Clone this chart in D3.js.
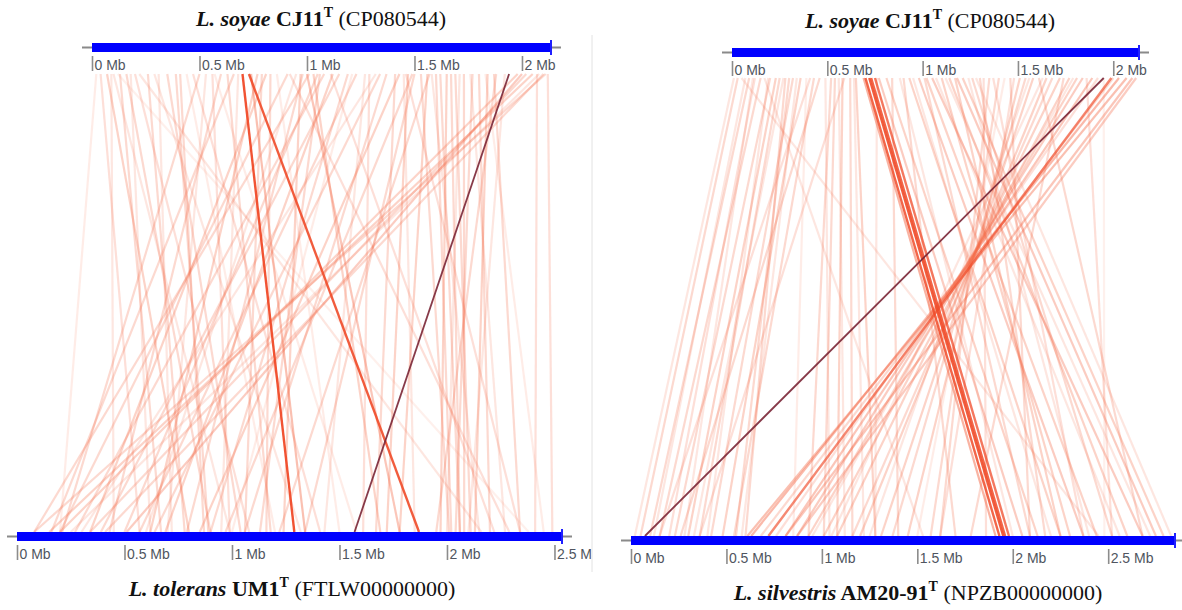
<!DOCTYPE html>
<html>
<head>
<meta charset="utf-8">
<script src="https://cdn.jsdelivr.net/npm/d3@7"></script>
<style>
  html, body { margin: 0; padding: 0; background: #fff; }
  svg { display: block; }
</style>
</head>
<body>
<svg id="chart" width="1182" height="610"></svg>
<script>
// ---------------- DATA ----------------
// Genome lengths (Mb)
const soyaeLen = 2.135;
const toleransLen = 2.535;
const silvestrisLen = 2.85;

// Axis tick values and labels
const tickValsTop = [0, 0.5, 1, 1.5, 2];
const tickLabelsTop = ["0 Mb", "0.5 Mb", "1 Mb", "1.5 Mb", "2 Mb"];
const tickValsBottom = [0, 0.5, 1, 1.5, 2, 2.5];
const tickLabelsBottomLeft = ["0 Mb", "0.5 Mb", "1 Mb", "1.5 Mb", "2 Mb", "2.5 M"];
const tickLabelsBottomRight = ["0 Mb", "0.5 Mb", "1 Mb", "1.5 Mb", "2 Mb", "2.5 Mb"];

// Left panel links: top position (L. soyae, Mb), bottom position (L. tolerans, Mb), intensity (-1 = dark)
const leftTop = [0.04,0.07,0.10,0.13,0.16,0.20,0.26,0.29,0.35,0.41,0.47,0.56,0.60,0.63,0.74,0.77,0.81,0.91,1.00,1.01,1.03,1.05,1.06,1.12,1.15,1.19,1.23,1.27,1.34,1.37,1.41,1.43,1.47,1.49,1.53,1.56,1.57,1.62,1.65,1.69,1.73,1.77,1.80,1.84,1.87,1.88,1.98,2.00,2.02,2.05,2.07,2.10,2.12,2.11,0.92,0.22,1.11,1.46,0.50,0.66,0.97,0.79,1.29,1.50,1.60,1.67,0.39,0.98,0.83,1.08,
  0.02,0.09,0.18,0.31,0.44,0.53,0.68,0.86,0.95,1.21,1.32,1.45,1.58,1.71,1.76,1.83,1.92,2.08,0.12,0.57,
  0.70,0.73,1.94];
const leftBottom = [0.57,0.80,0.99,0.67,0.90,1.08,0.78,1.32,1.04,0.87,1.41,0.99,0.43,1.18,1.34,0.62,0.34,0.20,1.78,0.08,1.69,0.50,1.13,0.69,0.39,0.90,0.57,1.43,0.64,1.06,1.67,0.85,1.72,0.97,2.01,1.78,1.22,2.06,1.97,2.11,2.08,2.04,2.20,2.13,2.34,1.95,0.20,0.51,0.34,0.15,2.41,0.41,2.49,0.08,2.29,2.16,2.22,2.34,0.21,0.16,1.24,1.06,1.61,1.34,2.02,2.06,0.89,0.79,1.16,0.27,
  0.20,0.45,0.62,0.72,1.20,0.70,0.95,1.50,0.60,1.00,0.30,1.85,2.15,2.00,2.27,2.45,2.10,0.25,2.38,1.58,
  1.29,1.87,1.57];
const leftLevel = [0.25,0.35,0.2,0.3,0.3,0.25,0.3,0.2,0.3,0.3,0.25,0.25,0.3,0.3,0.5,0.35,0.35,0.3,0.45,0.3,0.35,0.3,0.3,0.35,0.3,0.3,0.3,0.2,0.3,0.3,0.3,0.35,0.35,0.3,0.3,0.35,0.3,0.3,0.35,0.3,0.3,0.3,0.3,0.35,0.3,0.3,0.35,0.4,0.3,0.35,0.25,0.3,0.25,0.3,0.25,0.2,0.25,0.25,0.3,0.3,0.35,0.3,0.25,0.3,0.3,0.3,0.3,0.3,0.3,0.3,
  0.15,0.2,0.2,0.2,0.15,0.2,0.2,0.15,0.2,0.15,0.2,0.2,0.2,0.2,0.2,0.15,0.2,0.2,0.12,0.15,
  0.95,0.9,-1];

// Right panel links: top position (L. soyae, Mb), bottom position (L. silvestris, Mb), intensity (-1 = dark)
const rightTop = [0.03,0.05,0.15,0.20,0.23,0.25,0.32,0.36,0.41,0.43,0.46,0.52,0.54,0.58,0.62,0.65,0.77,0.81,0.90,0.93,0.98,1.02,1.05,1.10,1.14,1.18,1.21,1.26,1.30,1.35,1.40,1.46,1.51,1.54,1.58,1.65,1.68,1.72,1.74,1.77,1.81,1.84,1.89,1.99,2.03,2.07,2.10,2.12,0.76,1.95,0.17,0.30,0.59,1.01,1.61,1.37,1.86,1.32,1.48,1.17,0.09,0.12,0.28,0.84,
  0.01,0.07,0.11,0.19,0.27,0.34,0.39,0.49,0.56,0.64,0.88,0.95,1.07,1.12,1.24,1.43,1.56,1.63,1.79,1.92,2.00,1.28,
  0.69,0.70,0.72,0.73,0.75,1.95];
const rightBottom = [0.05,2.45,0.15,0.23,0.30,0.36,0.42,0.48,0.15,0.54,0.26,0.93,1.01,1.08,1.16,1.28,2.05,2.13,1.70,2.25,2.37,2.44,2.68,2.30,2.60,2.75,2.79,2.52,2.17,1.62,1.57,2.09,1.45,1.37,1.31,1.20,1.16,1.08,1.78,1.01,0.93,0.87,0.81,0.72,0.63,0.61,0.81,0.87,1.28,2.48,1.53,0.55,0.36,2.09,2.68,2.37,2.52,1.86,1.62,2.25,0.10,0.20,0.60,1.40,
  0.02,0.12,0.28,0.40,0.33,0.58,0.85,1.04,1.12,1.22,2.00,2.20,2.56,2.72,2.40,1.50,1.25,1.05,0.95,0.76,0.68,2.83,
  1.91,1.93,1.95,1.96,1.98,0.073];
const rightLevel = [0.3,0.2,0.3,0.3,0.35,0.3,0.3,0.35,0.25,0.3,0.3,0.3,0.3,0.35,0.3,0.35,0.4,0.35,0.3,0.35,0.4,0.35,0.4,0.35,0.35,0.4,0.35,0.3,0.3,0.3,0.3,0.3,0.35,0.3,0.35,0.35,0.3,0.35,0.3,0.35,0.35,0.4,0.45,0.65,0.55,0.5,0.45,0.4,0.2,0.12,0.2,0.3,0.25,0.3,0.3,0.25,0.25,0.25,0.25,0.35,0.3,0.25,0.3,0.3,
  0.2,0.2,0.2,0.2,0.2,0.2,0.15,0.2,0.2,0.2,0.2,0.2,0.2,0.2,0.2,0.15,0.2,0.2,0.2,0.25,0.3,0.2,
  0.6,0.85,0.9,0.85,0.75,-1];

// ---------------- DRAW ----------------
const svg = d3.select("#chart");
const barH = 9;

function drawGenomeBar(g, scale, len, yTop, ticks, labels) {
  const x0 = scale(0), x1 = scale(len);
  g.append("line").attr("x1", x0 - 10).attr("x2", x1 + 10)
    .attr("y1", yTop + barH / 2).attr("y2", yTop + barH / 2)
    .attr("stroke", "#8a8a8a").attr("stroke-width", 2);
  g.append("rect").attr("x", x0).attr("y", yTop)
    .attr("width", x1 - x0).attr("height", barH).attr("fill", "#0000ff");
  g.append("line").attr("x1", x1).attr("x2", x1)
    .attr("y1", yTop - 3).attr("y2", yTop + barH + 3)
    .attr("stroke", "#2020ff").attr("stroke-width", 2);
  const axis = d3.axisBottom(scale).tickValues(ticks)
    .tickFormat((d, i) => labels[i]).tickSize(15).tickSizeOuter(0);
  const ag = g.append("g").attr("transform", `translate(0,${yTop + barH + 4})`).call(axis);
  ag.select(".domain").remove();
  ag.selectAll(".tick line").attr("stroke", "#8c8c8c").attr("stroke-width", 1.6);
  ag.selectAll(".tick text")
    .attr("x", 2).attr("y", 9).attr("dy", "0.35em")
    .attr("text-anchor", "start")
    .attr("fill", "#4f5560")
    .style("font-family", "'Liberation Sans', Arial, sans-serif")
    .style("font-size", "14px");
}

function drawLinks(g, topScale, botScale, yA, yB, tops, bots, levels) {
  const data = tops.map((t, i) => ({ t, b: bots[i], v: levels[i] }));
  data.sort((a, b) => (a.v < 0 ? 2 : a.v) - (b.v < 0 ? 2 : b.v));
  g.selectAll("line.link").data(data).enter().append("line")
    .attr("class", "link")
    .attr("x1", d => topScale(d.t)).attr("y1", yA)
    .attr("x2", d => botScale(d.b)).attr("y2", yB)
    .attr("stroke", d => d.v < 0 ? "#7a2535" : (d.v > 0.6 ? "#f04a28" : "#f46a48"))
    .attr("stroke-opacity", d => d.v < 0 ? 0.9 : (d.v > 0.6 ? d.v : d.v * 0.85))
    .attr("stroke-width", d => d.v < 0 ? 1.8 : (d.v > 0.6 ? 2.4 : 2.2));
}

function drawTitle(x, y, italicPart, boldPart, rest) {
  const t = svg.append("text").attr("x", x).attr("y", y)
    .attr("text-anchor", "middle")
    .style("font-family", "'Liberation Serif', 'Times New Roman', serif")
    .style("font-size", "22px").attr("fill", "#111");
  t.append("tspan").style("font-style", "italic").style("font-weight", "bold").text(italicPart);
  t.append("tspan").style("font-weight", "bold").text(" " + boldPart);
  t.append("tspan").style("font-weight", "bold").style("font-size", "14px")
    .attr("dy", -9).text("T");
  t.append("tspan").attr("dy", 9).text(" " + rest);
}

// Left panel
const lTop = d3.scaleLinear().domain([0, soyaeLen]).range([92, 551]);
const lBot = d3.scaleLinear().domain([0, toleransLen]).range([17, 562]);
const gL = svg.append("g");
drawLinks(gL, lTop, lBot, 74, 532, leftTop, leftBottom, leftLevel);
drawGenomeBar(gL, lTop, soyaeLen, 43, tickValsTop, tickLabelsTop);
drawGenomeBar(gL, lBot, toleransLen, 532, tickValsBottom, tickLabelsBottomLeft);

// Right panel
const rTop = d3.scaleLinear().domain([0, soyaeLen]).range([732, 1139]);
const rBot = d3.scaleLinear().domain([0, silvestrisLen]).range([631, 1175]);
const gR = svg.append("g");
drawLinks(gR, rTop, rBot, 78, 536, rightTop, rightBottom, rightLevel);
drawGenomeBar(gR, rTop, soyaeLen, 48, tickValsTop, tickLabelsTop);
drawGenomeBar(gR, rBot, silvestrisLen, 536, tickValsBottom, tickLabelsBottomRight);

// divider
svg.append("line").attr("x1", 592).attr("x2", 592).attr("y1", 35).attr("y2", 572)
  .attr("stroke", "#e2e2e2").attr("stroke-width", 1);

// Titles
drawTitle(321, 26, "L. soyae", "CJ11", "(CP080544)");
drawTitle(930, 28, "L. soyae", "CJ11", "(CP080544)");
drawTitle(292, 596, "L. tolerans", "UM1", "(FTLW00000000)");
drawTitle(918, 600, "L. silvestris", "AM20-91", "(NPZB00000000)");
</script>
</body>
</html>
